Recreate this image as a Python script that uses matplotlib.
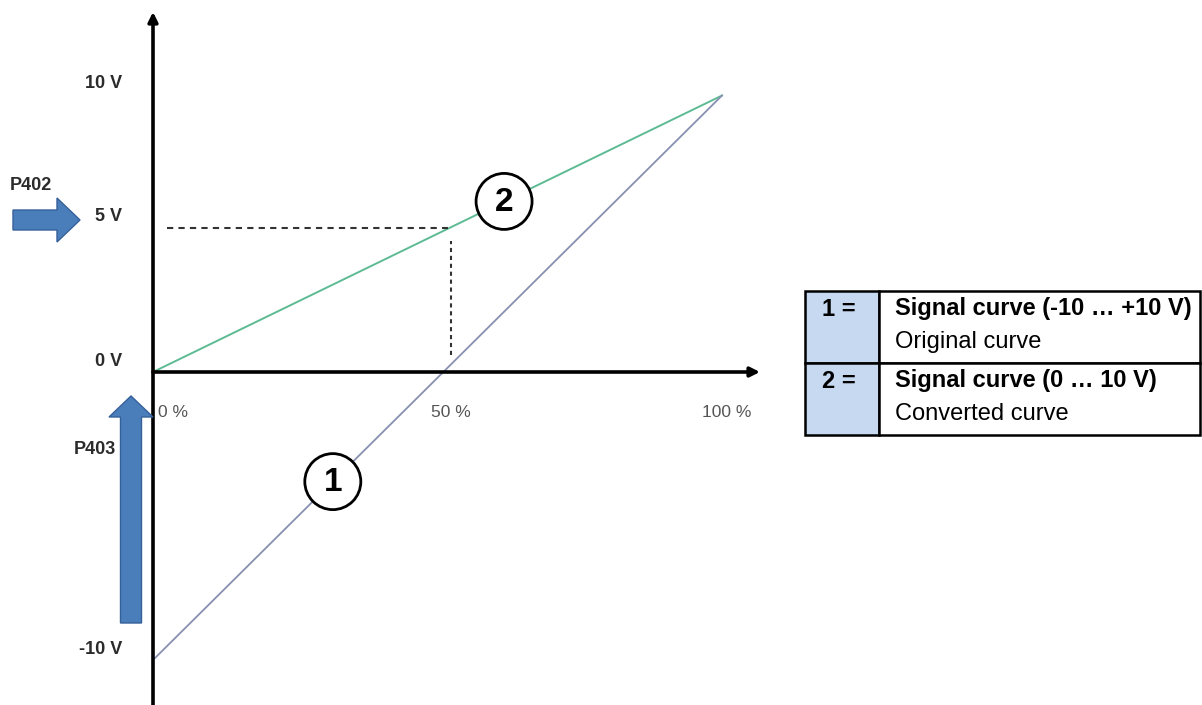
import matplotlib.pyplot as plt
from matplotlib.patches import Circle, FancyArrow, Rectangle

plt.rcParams["font.family"] = ["Liberation Sans", "DejaVu Sans"]

# curve data (percent of input -> output volts)
pct = [0, 100]
original_v = [-10, 9.6]
converted_v = [0, 9.6]

# example reading: 5 V on converted curve
marker_pct = 52.4
marker_v = 5

y_ticks = [10, 5, 0, -10]
y_tick_labels = ["10 V", "5 V", "0 V", "-10 V"]
x_tick_labels = ["0 %", "50 %", "100 %"]

legend_keys = ["1 =", "2 ="]
legend_titles = ["Signal curve (-10 \u2026 +10 V)", "Signal curve (0 \u2026 10 V)"]
legend_notes = ["Original curve", "Converted curve"]

# pixel layout of the drawing
W, H = 1202, 705
X0, XS = 153, 5.69   # px of 0 %, px per %
Y0, YS = 372, 28.8   # px of 0 V, px per V
x_label_pos = [3.5, 52.4, 100.8]
y_label_off = [0.0, 0.4, 0.35, 0.35]

fig = plt.figure(figsize=(W / 100, H / 100), dpi=100)
ax = fig.add_axes([0, 0, 1, 1])
ax.set_xlim(-X0 / XS, (W - X0) / XS)
ax.set_ylim((Y0 - H) / YS, Y0 / YS)
ax.axis("off")

# overlay in pixel coords for table and block arrows
ov = fig.add_axes([0, 0, 1, 1], zorder=3)
ov.set_xlim(0, W)
ov.set_ylim(H, 0)
ov.axis("off")
ov.patch.set_alpha(0)

# axes with arrows
xmax = (760 - X0) / XS
ytop = (Y0 - 12) / YS
ybot = (Y0 - H) / YS
ax.annotate("", xy=(xmax, 0), xytext=(0, 0),
            arrowprops=dict(arrowstyle="-|>", lw=2.6, color="black",
                            mutation_scale=14, shrinkA=0, shrinkB=0))
ax.annotate("", xy=(0, ytop), xytext=(0, ybot),
            arrowprops=dict(arrowstyle="-|>", lw=2.6, color="black",
                            mutation_scale=14, shrinkA=0, shrinkB=0))

# curves
ax.plot(pct, converted_v, color="#5dbb94", lw=1.4, zorder=2)
ax.plot(pct, original_v, color="#8890b0", lw=1.3, zorder=2)

# dashed reading lines
ax.plot([2.5, marker_pct - 0.6], [marker_v, marker_v], color="#333333",
        lw=1.5, ls=(0, (3, 2.5)))
ax.plot([marker_pct, marker_pct], [0.6, marker_v - 0.45], color="#333333",
        lw=1.5, ls=(0, (2, 1.8)))

# circled numbers on the curves
for cx, num, ser in [(31.6, "1", original_v), (61.7, "2", converted_v)]:
    cy = ser[0] + (ser[1] - ser[0]) * cx / 100
    px, py = X0 + cx * XS, Y0 - cy * YS
    ov.add_patch(Circle((px, py), 28, facecolor="white", edgecolor="black",
                        lw=2, zorder=4))
    ov.text(px, py + 1, num, ha="center", va="center", fontsize=24,
            fontweight="bold", zorder=5)

# tick labels
for v, off, lab in zip(y_ticks, y_label_off, y_tick_labels):
    ax.text(-31 / XS, v + off, lab, ha="right", va="center", fontsize=13,
            fontweight="bold", color="#2b2b2b")
for xp, lab in zip(x_label_pos, x_tick_labels):
    ax.text(xp, -41 / YS, lab, ha="center", va="center", fontsize=12.5,
            color="#555555")

# block arrows P402 / P403
blue, edge = "#4a7ebb", "#36609a"
ov.add_patch(FancyArrow(13, 220, 67, 0, width=20, head_width=44,
                        head_length=23, length_includes_head=True,
                        facecolor=blue, edgecolor=edge, lw=1, zorder=3))
ov.add_patch(FancyArrow(131, 623, 0, -227, width=21, head_width=44,
                        head_length=21, length_includes_head=True,
                        facecolor=blue, edgecolor=edge, lw=1, zorder=3))
ov.text(10, 185, "P402", ha="left", va="center", fontsize=13,
        fontweight="bold", color="#2b2b2b")
ov.text(116, 449, "P403", ha="right", va="center", fontsize=13,
        fontweight="bold", color="#2b2b2b")

# legend table
tx0, tx1, tcol = 805, 1200, 879
rows = [(291, 363), (363, 435)]
for (top, bot), key, title, note in zip(rows, legend_keys, legend_titles, legend_notes):
    ov.add_patch(Rectangle((tx0, top), tcol - tx0, bot - top,
                           facecolor="#c6d9f1", edgecolor="black", lw=1.8))
    ov.add_patch(Rectangle((tcol, top), tx1 - tcol, bot - top,
                           facecolor="white", edgecolor="black", lw=1.8))
    ov.text(839, top + 18, key, ha="center", va="center", fontsize=17,
            fontweight="bold")
    ov.text(895, top + 18, title, ha="left", va="center", fontsize=17,
            fontweight="bold")
    ov.text(895, top + 51, note, ha="left", va="center", fontsize=17)

fig.savefig("out.png", dpi=100)
